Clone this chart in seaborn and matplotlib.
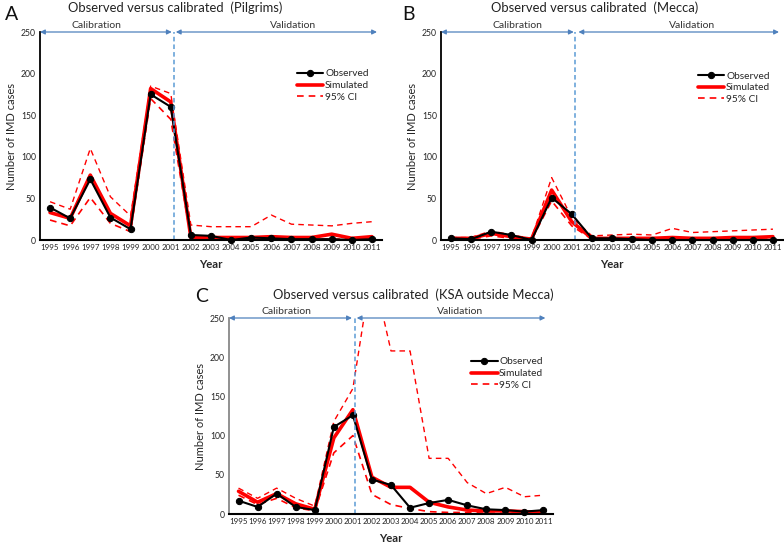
import numpy as np
import pandas as pd
import matplotlib
matplotlib.use("Agg")
import matplotlib.pyplot as plt
import seaborn as sns

sns.set_theme(style="white")
plt.rcParams['font.family'] = ['Lato', 'DejaVu Sans']

years = list(range(1995, 2012))
yticks = [0, 50, 100, 150, 200, 250]

# Panel A: Pilgrims
obs_a = [39, 26, 73, 27, 13, 175, 160, 6, 5, 0, 3, 2, 1, 1, 1, 0, 1]
sim_a = [33, 26, 78, 32, 17, 182, 166, 3, 3, 3, 3, 4, 3, 3, 7, 2, 4]
up_a = [46, 37, 110, 52, 29, 185, 176, 18, 16, 16, 16, 30, 19, 18, 17, 20, 22]
lo_a = [24, 17, 51, 20, 10, 170, 145, 2, 1, 1, 1, 1, 1, 1, 1, 1, 1]

# Panel B: Mecca
obs_b = [2, 1, 10, 6, 0, 51, 31, 2, 2, 1, 0, 0, 0, 0, 0, 0, 0]
sim_b = [2, 2, 8, 4, 1, 60, 22, 2, 2, 2, 2, 3, 2, 2, 3, 3, 4]
up_b = [3, 3, 11, 6, 2, 75, 27, 5, 6, 7, 6, 14, 9, 10, 11, 12, 13]
lo_b = [1, 1, 5, 2, 0, 47, 17, 1, 1, 1, 1, 1, 1, 1, 1, 1, 1]

# Panel C: KSA outside Mecca
obs_c = [17, 9, 26, 9, 5, 111, 126, 44, 37, 8, 14, 18, 11, 6, 5, 3, 5]
sim_c = [29, 15, 26, 13, 6, 97, 133, 47, 34, 34, 15, 9, 5, 4, 4, 3, 2]
up_c = [33, 20, 33, 20, 10, 118, 160, 315, 208, 208, 71, 71, 40, 26, 34, 22, 24]
lo_c = [24, 12, 20, 8, 4, 78, 100, 25, 12, 7, 3, 2, 2, 1, 1, 1, 1]

W, H = 784, 542
fig = plt.figure(figsize=(W / 100, H / 100), dpi=100)

def frac_box(l, r, t, b):
    return [l / W, 1 - b / H, (r - l) / W, (b - t) / H]

blue = "#4f81bd"
vblue = "#5b9bd5"

def draw(box, obs, sim, up, lo, title, letter, title_xy, letter_xy,
         cal_end, val_start, val_end, vline, cal_x, val_x, leg_xy, spine_col, year_y):
    ax = fig.add_axes(frac_box(*box))
    df = pd.DataFrame({"Year": years, "obs": obs, "sim": sim, "up": up, "lo": lo})
    sns.lineplot(data=df, x="Year", y="up", ax=ax, color="red", lw=1.0, linestyle=(0, (4, 3)), label="_nolegend_")
    sns.lineplot(data=df, x="Year", y="lo", ax=ax, color="red", lw=1.2, linestyle=(0, (4, 3)), label="95% CI")
    sns.lineplot(data=df, x="Year", y="sim", ax=ax, color="red", lw=2.6, label="Simulated")
    sns.lineplot(data=df, x="Year", y="obs", ax=ax, color="black", lw=1.5, marker="o",
                 markersize=4.5, markeredgecolor="black", label="Observed", clip_on=False)
    ax.set_xlim(1994.5, 2011.5)
    ax.set_ylim(0, 250)
    ax.set_xticks(years)
    ax.set_xticklabels([str(y) for y in years], fontsize=5.8)
    ax.set_yticks(yticks)
    ax.set_yticklabels([str(v) for v in yticks], fontsize=6.2)
    ax.tick_params(axis='both', length=0, pad=3)
    ax.set_xlabel("")
    ax.set_ylabel("Number of IMD cases", fontsize=8, labelpad=3)
    for s in ["top", "right"]:
        ax.spines[s].set_visible(False)
    ax.spines["left"].set_color(spine_col)
    ax.spines["bottom"].set_color("black")
    ax.spines["left"].set_linewidth(1.3)
    ax.spines["bottom"].set_linewidth(1.5)
    ax.plot([vline, vline], [0, 250], color=vblue, lw=1.1, linestyle=(0, (3, 2)), clip_on=False)
    ap = dict(arrowstyle="<|-|>", color=blue, lw=0.9, mutation_scale=7, shrinkA=0, shrinkB=0)
    ax.annotate("", xy=(cal_end, 250), xytext=(1994.5, 250), arrowprops=ap, annotation_clip=False)
    ax.annotate("", xy=(val_end, 250), xytext=(val_start, 250), arrowprops=ap, annotation_clip=False)
    ax.text(cal_x, 253, "Calibration", fontsize=7.5, ha="center", va="bottom", color="#333333")
    ax.text(val_x, 253, "Validation", fontsize=7.5, ha="center", va="bottom", color="#333333")
    h, l = ax.get_legend_handles_labels()
    order = [l.index("Observed"), l.index("Simulated"), l.index("95% CI")]
    ax.legend([h[i] for i in order], [l[i] for i in order], loc="upper left",
              bbox_to_anchor=leg_xy, frameon=False, fontsize=7.3, handlelength=2.6,
              handletextpad=0.15, labelspacing=0.25, borderaxespad=0)
    fig.text(title_xy[0] / W, 1 - title_xy[1] / H, title, fontsize=9.4, ha="center", va="center", color="#222222")
    fig.text(letter_xy[0] / W, 1 - letter_xy[1] / H, letter, fontsize=14, ha="center", va="center", color="#111111")
    fig.text((box[0] + box[1]) / 2 / W, 1 - year_y / H, "Year", fontsize=8.2, fontweight="bold", ha="center", va="center")
    return ax

draw((40, 382, 32, 240), obs_a, sim_a, up_a, lo_a, "Observed versus calibrated  (Pilgrims)", "A",
     (175, 8), (12, 15), 2001.05, 2001.25, 2011.25, 2001.15, 1997.3, 2007.1, (0.74, 0.84), "black", 265)
draw((441, 783, 32, 240), obs_b, sim_b, up_b, lo_b, "Observed versus calibrated  (Mecca)", "B",
     (595, 8), (409, 15), 2001.1, 2001.33, 2011.3, 2001.18, 1998.3, 2007.0, (0.74, 0.83), "black", 265)
draw((229, 553, 318, 514), obs_c, sim_c, up_c, lo_c, "Observed versus calibrated  (KSA outside Mecca)", "C",
     (413, 295), (202, 297), 2000.95, 2001.2, 2011.1, 2001.1, 1997.5, 2006.6, (0.735, 0.82), "#888888", 538)

fig.savefig("out.png", dpi=100)
